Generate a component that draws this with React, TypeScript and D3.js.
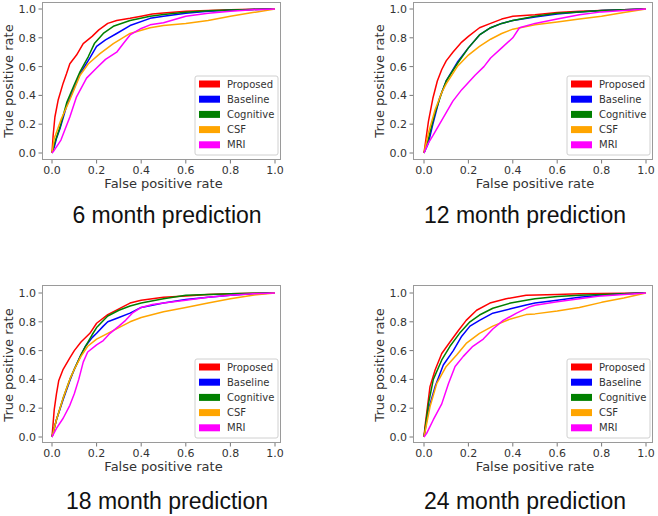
import React from 'react';
import * as d3 from 'd3';

type Pt = [number, number];

const seriesNames = ['Proposed', 'Baseline', 'Cognitive', 'CSF', 'MRI'];
const seriesColors = ['#ff0000', '#0000ff', '#008000', '#ffa500', '#ff00ff'];
const panelTitles = ['6 month prediction', '12 month prediction', '18 month prediction', '24 month prediction'];
const tickValues = [0, 0.2, 0.4, 0.6, 0.8, 1.0];
const tickLabels = ['0.0', '0.2', '0.4', '0.6', '0.8', '1.0'];
const xLabel = 'False positive rate';
const yLabel = 'True positive rate';

// 6 month
const m6Proposed: Pt[] = [[0,0],[0.005,0.12],[0.013,0.25],[0.028,0.37],[0.05,0.485],[0.065,0.55],[0.08,0.62],[0.11,0.68],[0.14,0.76],[0.18,0.81],[0.21,0.855],[0.25,0.9],[0.29,0.92],[0.35,0.935],[0.4,0.95],[0.45,0.965],[0.5,0.972],[0.6,0.985],[0.7,0.99],[0.8,0.995],[0.9,0.998],[1,1]];
const m6Baseline: Pt[] = [[0,0],[0.01,0.04],[0.02,0.1],[0.036,0.17],[0.066,0.33],[0.096,0.44],[0.126,0.55],[0.15,0.61],[0.17,0.66],[0.2,0.74],[0.24,0.785],[0.29,0.83],[0.35,0.885],[0.44,0.935],[0.5,0.95],[0.6,0.97],[0.7,0.985],[0.8,0.992],[0.9,0.997],[1,1]];
const m6Cognitive: Pt[] = [[0,0],[0.01,0.06],[0.036,0.18],[0.066,0.35],[0.096,0.46],[0.126,0.565],[0.163,0.67],[0.19,0.76],[0.23,0.83],[0.275,0.88],[0.35,0.92],[0.44,0.95],[0.5,0.962],[0.6,0.978],[0.7,0.988],[0.8,0.993],[0.9,0.997],[1,1]];
const m6CSF: Pt[] = [[0,0],[0.01,0.1],[0.04,0.23],[0.08,0.37],[0.126,0.54],[0.163,0.62],[0.215,0.69],[0.275,0.76],[0.35,0.83],[0.44,0.87],[0.5,0.885],[0.6,0.9],[0.7,0.92],[0.8,0.95],[0.9,0.975],[1,1]];
const m6MRI: Pt[] = [[0,0],[0.006,0.01],[0.04,0.09],[0.08,0.25],[0.11,0.39],[0.155,0.52],[0.2,0.59],[0.24,0.65],[0.29,0.7],[0.32,0.76],[0.35,0.82],[0.4,0.865],[0.44,0.89],[0.5,0.905],[0.6,0.95],[0.7,0.97],[0.8,0.985],[0.9,0.995],[1,1]];

// 12 month
const m12Proposed: Pt[] = [[0,0],[0.02,0.22],[0.04,0.38],[0.06,0.5],[0.08,0.58],[0.1,0.64],[0.13,0.7],[0.17,0.77],[0.2,0.81],[0.25,0.87],[0.3,0.9],[0.35,0.93],[0.4,0.95],[0.5,0.96],[0.6,0.975],[0.7,0.985],[0.8,0.99],[0.9,0.995],[1,1]];
const m12Baseline: Pt[] = [[0,0],[0.02,0.07],[0.04,0.2],[0.07,0.38],[0.1,0.5],[0.15,0.63],[0.2,0.73],[0.25,0.82],[0.3,0.87],[0.35,0.9],[0.4,0.92],[0.5,0.945],[0.6,0.965],[0.7,0.98],[0.8,0.99],[0.9,0.995],[1,1]];
const m12Cognitive: Pt[] = [[0,0],[0.02,0.1],[0.05,0.28],[0.08,0.42],[0.1,0.5],[0.15,0.62],[0.2,0.73],[0.25,0.82],[0.3,0.87],[0.35,0.9],[0.4,0.92],[0.5,0.95],[0.6,0.97],[0.7,0.98],[0.8,0.99],[0.9,0.995],[1,1]];
const m12CSF: Pt[] = [[0,0],[0.02,0.14],[0.05,0.3],[0.08,0.42],[0.1,0.48],[0.15,0.6],[0.2,0.68],[0.25,0.74],[0.3,0.79],[0.35,0.83],[0.4,0.86],[0.45,0.875],[0.5,0.89],[0.6,0.91],[0.7,0.93],[0.8,0.95],[0.9,0.975],[1,1]];
const m12MRI: Pt[] = [[0,0],[0.02,0.07],[0.04,0.12],[0.07,0.2],[0.1,0.28],[0.13,0.36],[0.17,0.44],[0.2,0.49],[0.23,0.54],[0.27,0.6],[0.3,0.66],[0.35,0.73],[0.4,0.8],[0.43,0.87],[0.5,0.9],[0.6,0.93],[0.7,0.96],[0.8,0.98],[0.9,0.99],[1,1]];

// 18 month
const m18Proposed: Pt[] = [[0,0],[0.01,0.19],[0.02,0.3],[0.03,0.39],[0.05,0.47],[0.08,0.55],[0.1,0.6],[0.13,0.66],[0.17,0.72],[0.2,0.79],[0.25,0.85],[0.3,0.89],[0.35,0.93],[0.4,0.95],[0.5,0.97],[0.6,0.98],[0.7,0.99],[0.8,0.995],[0.9,0.998],[1,1]];
const m18Baseline: Pt[] = [[0,0],[0.02,0.12],[0.05,0.26],[0.08,0.39],[0.1,0.47],[0.13,0.57],[0.15,0.63],[0.18,0.69],[0.2,0.72],[0.23,0.77],[0.25,0.8],[0.3,0.83],[0.35,0.86],[0.4,0.9],[0.5,0.93],[0.6,0.955],[0.7,0.97],[0.8,0.985],[0.9,0.995],[1,1]];
const m18Cognitive: Pt[] = [[0,0],[0.02,0.12],[0.05,0.27],[0.08,0.4],[0.1,0.47],[0.13,0.57],[0.15,0.63],[0.18,0.71],[0.2,0.76],[0.25,0.84],[0.3,0.88],[0.35,0.91],[0.4,0.93],[0.5,0.96],[0.6,0.985],[0.7,0.99],[0.8,0.995],[0.9,0.998],[1,1]];
const m18CSF: Pt[] = [[0,0],[0.02,0.12],[0.05,0.27],[0.08,0.4],[0.1,0.47],[0.13,0.56],[0.16,0.63],[0.2,0.68],[0.25,0.72],[0.3,0.76],[0.35,0.8],[0.4,0.83],[0.5,0.87],[0.6,0.9],[0.7,0.93],[0.8,0.96],[0.9,0.985],[1,1]];
const m18MRI: Pt[] = [[0,0],[0.02,0.06],[0.05,0.13],[0.08,0.22],[0.1,0.3],[0.12,0.4],[0.14,0.52],[0.16,0.59],[0.2,0.64],[0.23,0.67],[0.26,0.72],[0.3,0.77],[0.33,0.81],[0.36,0.86],[0.4,0.9],[0.45,0.92],[0.5,0.93],[0.6,0.95],[0.7,0.97],[0.8,0.985],[0.9,0.995],[1,1]];

// 24 month
const m24Proposed: Pt[] = [[0,0],[0.005,0.08],[0.012,0.165],[0.027,0.35],[0.05,0.465],[0.08,0.58],[0.117,0.66],[0.155,0.74],[0.19,0.81],[0.237,0.88],[0.297,0.93],[0.37,0.96],[0.46,0.985],[0.6,0.99],[0.7,0.995],[0.8,0.997],[1,1]];
const m24Baseline: Pt[] = [[0,0],[0.02,0.19],[0.05,0.35],[0.087,0.5],[0.132,0.6],[0.17,0.7],[0.207,0.77],[0.25,0.81],[0.31,0.86],[0.39,0.89],[0.46,0.917],[0.5,0.93],[0.6,0.95],[0.7,0.97],[0.8,0.985],[0.9,0.995],[1,1]];
const m24Cognitive: Pt[] = [[0,0],[0.02,0.23],[0.042,0.4],[0.08,0.535],[0.117,0.63],[0.16,0.72],[0.207,0.8],[0.25,0.847],[0.31,0.894],[0.39,0.93],[0.46,0.95],[0.5,0.96],[0.6,0.975],[0.7,0.985],[0.8,0.99],[0.9,0.995],[1,1]];
const m24CSF: Pt[] = [[0,0],[0.027,0.21],[0.057,0.37],[0.1,0.49],[0.147,0.57],[0.19,0.65],[0.25,0.72],[0.31,0.77],[0.39,0.82],[0.46,0.85],[0.5,0.855],[0.6,0.875],[0.7,0.9],[0.8,0.935],[0.9,0.965],[1,1]];
const m24MRI: Pt[] = [[0,0],[0.012,0.025],[0.042,0.12],[0.08,0.23],[0.11,0.37],[0.14,0.49],[0.177,0.56],[0.22,0.63],[0.267,0.68],[0.31,0.75],[0.357,0.81],[0.417,0.86],[0.477,0.905],[0.5,0.915],[0.6,0.94],[0.7,0.96],[0.8,0.98],[0.9,0.99],[1,1]];

const panelSeries: Pt[][][] = [
  [m6Proposed, m6Baseline, m6Cognitive, m6CSF, m6MRI],
  [m12Proposed, m12Baseline, m12Cognitive, m12CSF, m12MRI],
  [m18Proposed, m18Baseline, m18Cognitive, m18CSF, m18MRI],
  [m24Proposed, m24Baseline, m24Cognitive, m24CSF, m24MRI],
];

// layout (pixel geometry for each panel)
const layout = [
  { fl: 42, fr: 281, ft: 2, fb: 160, x0: 52, x1: 275, y0: 153, y1: 9, tx: 167, ty: 223 },
  { fl: 413, fr: 653, ft: 2, fb: 160, x0: 424, x1: 646, y0: 153, y1: 9, tx: 525, ty: 223 },
  { fl: 42, fr: 281, ft: 285, fb: 443, x0: 52, x1: 275, y0: 437, y1: 293, tx: 167, ty: 509 },
  { fl: 413, fr: 653, ft: 285, fb: 443, x0: 424, x1: 646, y0: 437, y1: 293, tx: 525, ty: 509 },
];

const FONT = 'DejaVu Sans, sans-serif';

function Panel({ idx }: { idx: number }) {
  const L = layout[idx];
  const x = d3.scaleLinear().domain([0, 1]).range([L.x0, L.x1]);
  const y = d3.scaleLinear().domain([0, 1]).range([L.y0, L.y1]);
  const line = d3.line<Pt>().x(d => x(d[0])).y(d => y(d[1]));
  const clipId = `clip${idx}`;
  const legW = 83;
  const legH = 79;
  const legX = L.fr - 3 - legW;
  const legY = L.fb - 5 - legH;
  return (
    <g>
      <defs>
        <clipPath id={clipId}>
          <rect x={L.fl} y={L.ft} width={L.fr - L.fl} height={L.fb - L.ft} />
        </clipPath>
      </defs>
      <rect x={L.fl} y={L.ft} width={L.fr - L.fl} height={L.fb - L.ft} fill="#fff" stroke="none" />
      <g clipPath={`url(#${clipId})`}>
        {panelSeries[idx].map((s, i) => (
          <path key={i} d={line(s) || ''} fill="none" stroke={seriesColors[i]} strokeWidth={1.5} strokeLinejoin="round" />
        ))}
      </g>
      <rect x={L.fl + 0.5} y={L.ft + 0.5} width={L.fr - L.fl - 1} height={L.fb - L.ft - 1} fill="none" stroke="#9a9a9a" strokeWidth={1} />
      {tickValues.map((t, i) => (
        <g key={'x' + i}>
          <line x1={x(t)} x2={x(t)} y1={L.fb} y2={L.fb + 3.5} stroke="#555" strokeWidth={0.8} />
          <text x={x(t)} y={L.fb + 14} textAnchor="middle" fontFamily={FONT} fontSize={11} fill="#333">{tickLabels[i]}</text>
        </g>
      ))}
      {tickValues.map((t, i) => (
        <g key={'y' + i}>
          <line x1={L.fl - 3.5} x2={L.fl} y1={y(t)} y2={y(t)} stroke="#555" strokeWidth={0.8} />
          <text x={L.fl - 6} y={y(t) + 4} textAnchor="end" fontFamily={FONT} fontSize={11} fill="#333">{tickLabels[i]}</text>
        </g>
      ))}
      <text x={(L.x0 + L.x1) / 2} y={L.fb + 28} textAnchor="middle" fontFamily={FONT} fontSize={13} fill="#333">{xLabel}</text>
      <text transform={`translate(${L.fl - 29},${(L.y0 + L.y1) / 2}) rotate(-90)`} textAnchor="middle" fontFamily={FONT} fontSize={13} fill="#333">{yLabel}</text>
      <rect x={legX} y={legY} width={legW} height={legH} rx={2} fill="#fff" fillOpacity={0.8} stroke="#d0d0d0" strokeWidth={1} />
      {seriesNames.map((n, i) => {
        const cy = legY + 8 + i * 15.2;
        return (
          <g key={'l' + i}>
            <rect x={legX + 4} y={cy - 3.5} width={21} height={7} fill={seriesColors[i]} />
            <text x={legX + 32} y={cy + 3.5} fontFamily={FONT} fontSize={10} fill="#333">{n}</text>
          </g>
        );
      })}
      <text x={L.tx} y={L.ty} textAnchor="middle" fontFamily="Liberation Sans, Arial, sans-serif" fontSize={23} fill="#111">{panelTitles[idx]}</text>
    </g>
  );
}

export default function App() {
  return (
    <svg width={658} height={516} style={{ position: 'absolute', left: 0, top: 0, background: '#fff' }}>
      <rect x={0} y={0} width={658} height={516} fill="#fff" />
      {[0, 1, 2, 3].map(i => <Panel key={i} idx={i} />)}
    </svg>
  );
}
